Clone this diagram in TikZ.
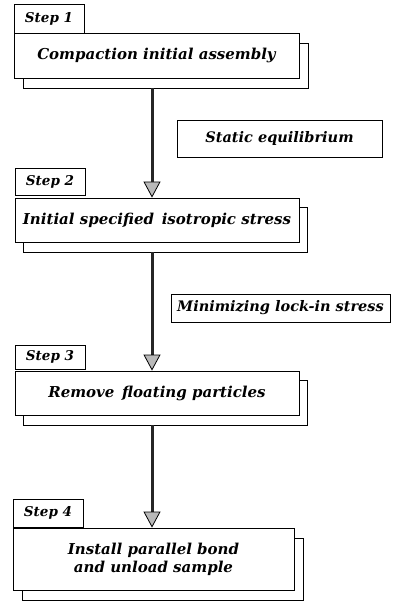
\documentclass[tikz,border=0pt]{standalone}
\usepackage{fontspec}
\setmainfont{DejaVu Serif}
\usetikzlibrary{arrows.meta}
\begin{document}
\begin{tikzpicture}[x=1pt,y=-1pt,
  mainbox/.style={draw=black,line width=0.8pt,fill=white,minimum width=#1,inner sep=0pt,font=\bfseries\itshape\fontsize{15}{18}\selectfont,align=center},
  shadowbox/.style={draw=black,line width=0.8pt,fill=white,minimum width=#1,inner sep=0pt},
  stepbox/.style={draw=black,line width=0.8pt,fill=white,minimum width=70pt,inner sep=0pt,font=\bfseries\itshape\fontsize{13.5}{16}\selectfont},
  notebox/.style={draw=black,line width=0.8pt,fill=white,minimum width=#1,inner sep=0pt,font=\bfseries\itshape\fontsize{14.5}{17}\selectfont},
  arr/.style={line width=3pt,draw=black!85,-{Triangle[width=17pt,length=16pt,line width=0.8pt,fill=gray!55,color=black]}}
]
\useasboundingbox (0,0) rectangle (399,601);
\coordinate (ax) at (152,0);
% Step 1
\node[shadowbox=285pt,minimum height=45pt] (sh1) at (165.5,65.5) {};
\node[mainbox=285pt,minimum height=45pt] (m1) at (156.5,55.5) {Compaction initial assembly};
\node[stepbox,minimum height=29pt] (l1) at (49,18.5) {Step 1};
% note 1
\node[notebox=205pt,minimum height=37pt] (n1) at (279.5,138.5) {Static equilibrium};
% Step 2
\node[shadowbox=284pt,minimum height=45pt] (sh2) at (165,229.5) {};
\node[mainbox=284pt,minimum height=44pt] (m2) at (157,220) {Initial specified\, isotropic stress};
\node[stepbox,minimum height=27pt] (l2) at (50,181.5) {Step 2};
% note 2
\node[notebox=219pt,minimum height=28pt] (n2) at (280.5,308) {Minimizing lock-in stress};
% Step 3
\node[shadowbox=284pt,minimum height=45pt] (sh3) at (165,402.5) {};
\node[mainbox=284pt,minimum height=44pt] (m3) at (157,393) {Remove\, floating particles};
\node[stepbox,minimum height=24pt] (l3) at (50,357) {Step 3};
% Step 4
\node[shadowbox=281pt,minimum height=62pt] (sh4) at (162.5,569) {};
\node[mainbox=281pt,minimum height=62pt] (m4) at (153.5,559) {Install parallel bond\\and unload sample};
\node[stepbox,minimum height=28pt] (l4) at (48,513) {Step 4};
% arrows
\draw[arr] (sh1.south -| ax) -- (m2.north -| ax);
\draw[arr] (sh2.south -| ax) -- (m3.north -| ax);
\draw[arr] (sh3.south -| ax) -- (m4.north -| ax);
\end{tikzpicture}
\end{document}
